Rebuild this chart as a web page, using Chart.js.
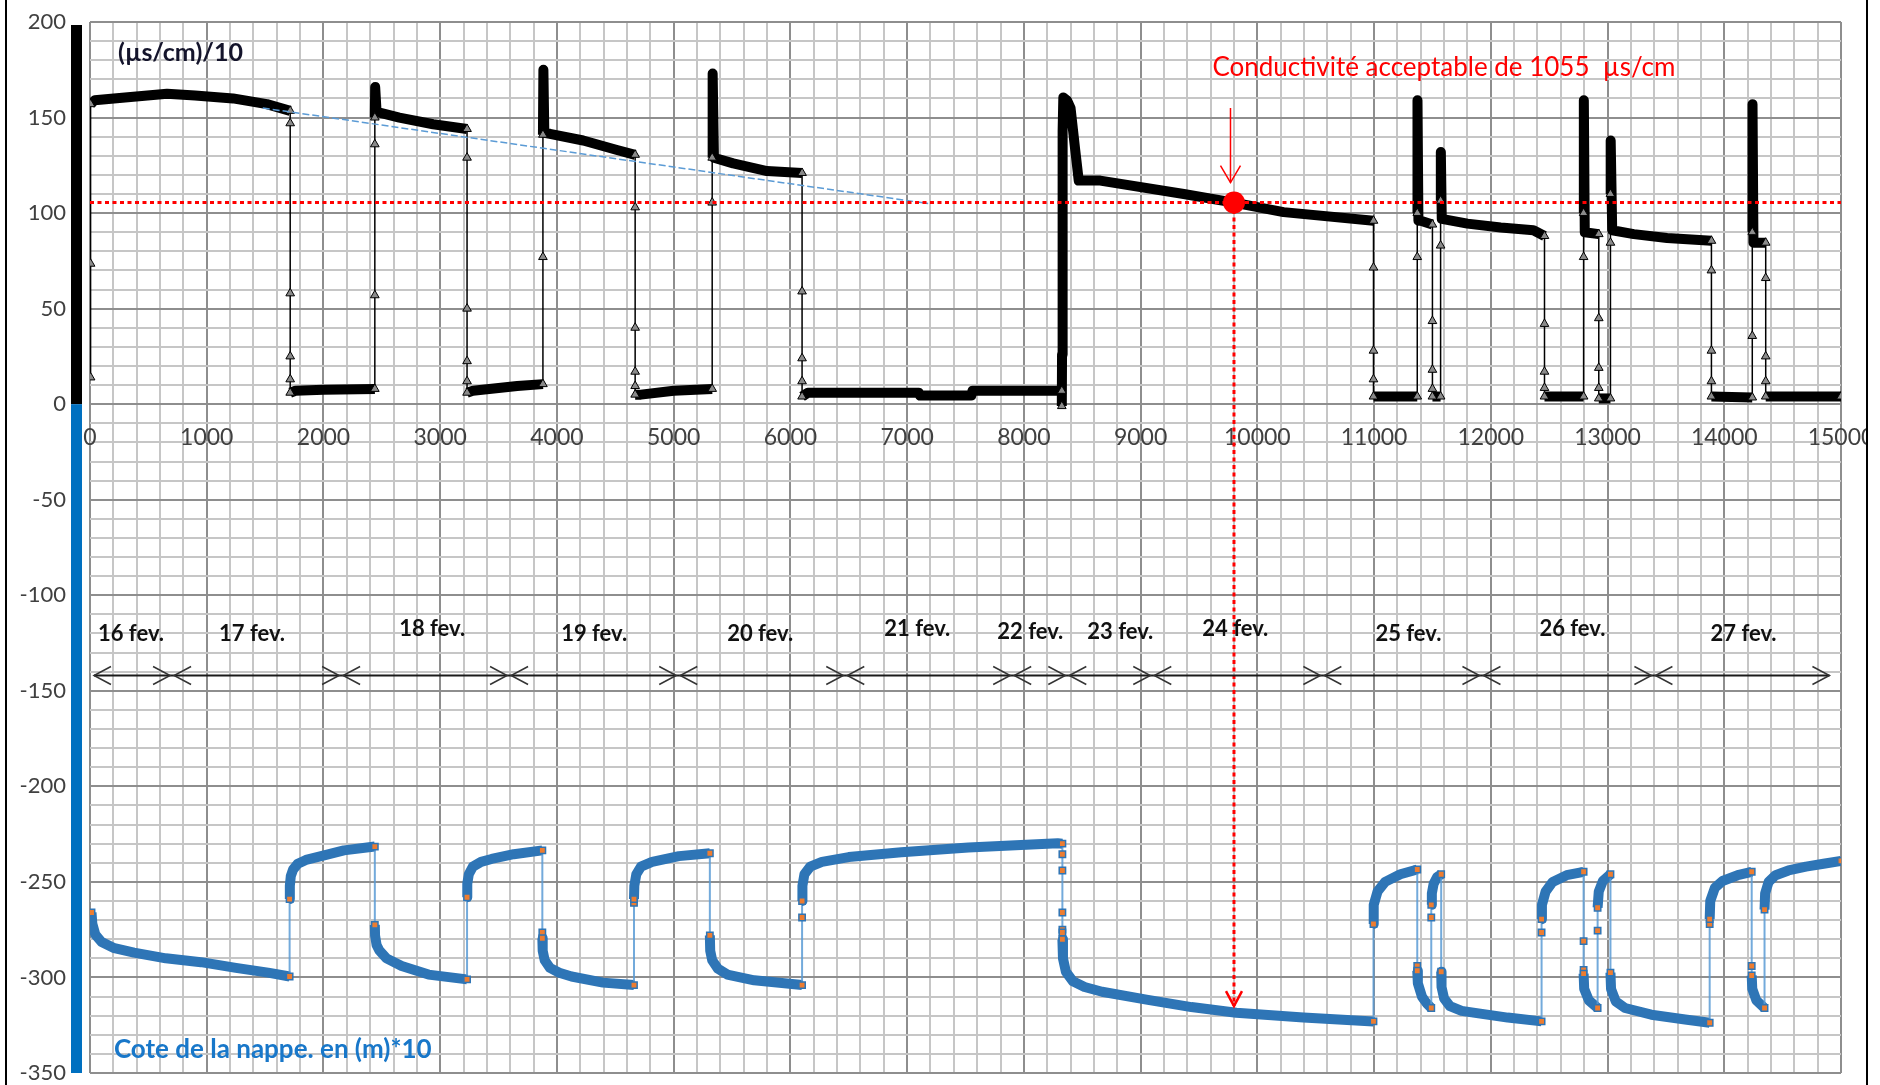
<!DOCTYPE html>
<html lang="fr">
<head>
<meta charset="UTF-8">
<title>Conductivité et cote de la nappe</title>
<script src="https://cdn.jsdelivr.net/npm/chart.js@4.4.1/dist/chart.umd.min.js"></script>
<style>
  html, body { margin:0; padding:0; background:#fff; }
  #wrap { width:1880px; height:1085px; }
</style>
</head>
<body>
<div id="wrap"><canvas id="chart" width="1880" height="1085"></canvas></div>
<script>
// ================= DATA =================
// conductivity (µs/cm)/10 : [time index, value]
const conductivity = [
  [5,14],[5,73.5],[5,157],[40,159],[300,160.5],[660,162.5],[900,161.5],[1225,160],[1515,157],[1715,153.5],
  [1715,147],[1715,58],[1715,25],[1715,13],[1715,6],
  [1760,7],[2000,7.5],[2440,8],
  [2440,57],[2440,136],[2440,150],[2443,166],[2455,153],[2650,150],[2940,146.5],[3230,144],
  [3230,129],[3230,50],[3230,22.5],[3230,12],[3230,6],
  [3280,7],[3660,9.5],[3880,10.5],
  [3880,77],[3880,141],[3884,175],[3892,142],[3940,141.5],[4225,138],[4515,133],[4670,130.5],
  [4670,103],[4670,40],[4670,17],[4670,9.5],[4670,5],
  [4720,5],[5000,7],[5330,8],
  [5330,105.5],[5330,129],[5334,173],[5345,129],[5510,126],[5800,122],[6100,121],
  [6100,59],[6100,24],[6100,12],[6100,4],
  [6150,6],[7100,6],[7110,4.5],[7550,4.5],[7560,7],[8325,7],
  [8325,-1],[8327,26],[8329,42],[8331,77.6],[8333,114],[8335,143],[8338,160.5],[8370,159],[8400,155],
  [8440,133],[8470,117],[8655,117],[9370,110],[9800,105.5],[10225,100.5],[10995,96],
  [10995,71.5],[10995,28],[10995,13],[10995,4],
  [11370,4],
  [11370,77],[11370,100],[11372,159],[11380,96],[11400,96],[11500,94],
  [11500,43.5],[11500,18],[11500,8],[11500,4],
  [11570,4],
  [11570,83],[11570,106.5],[11572,132],[11580,97],[11800,94.5],[12085,92.5],[12365,91],[12460,88],
  [12460,42],[12460,17],[12460,8.5],[12460,4],
  [12795,4],
  [12795,77],[12795,100],[12797,159],[12805,90],[12925,89],
  [12925,45],[12925,19],[12925,8.5],[12925,3],
  [13025,3],
  [13025,84.5],[13025,110],[13027,138],[13040,91],[13225,89],[13510,87],[13890,85.5],
  [13890,70],[13890,28],[13890,12],[13890,4],
  [14240,3.5],
  [14240,35.7],[14240,90],[14242,157],[14250,84.5],[14355,84.5],
  [14355,66],[14355,25],[14355,12],[14355,4],
  [15000,4]
];

// cote de la nappe en (m)*10 : [time index, value]
const waterLevel = [
  [13,-266],[20,-272],[45,-277.5],[100,-281.5],[200,-284.5],[377,-287],[650,-290],[951,-292],[1250,-295],[1525,-297.5],[1710,-299.5],
  [1710,-259],[1712,-252],[1720,-247],[1740,-243.5],[1780,-240.5],[1850,-238.5],[1980,-236.5],[2175,-233.5],[2440,-231.5],
  [2440,-272.5],[2442,-278],[2455,-283],[2480,-286],[2540,-290],[2670,-294],[2900,-298.5],[3230,-301],
  [3230,-258],[3232,-251],[3245,-246],[3280,-242],[3350,-239.5],[3440,-238],[3630,-235.5],[3875,-233.5],
  [3875,-276.5],[3875,-279.5],[3878,-286],[3895,-291],[3940,-295],[4020,-297.5],[4125,-299.5],[4395,-302.7],[4660,-304],
  [4660,-261],[4660,-259],[4663,-252],[4680,-246],[4720,-242],[4815,-239.5],[5045,-236.5],[5310,-235],
  [5310,-278],[5313,-286],[5330,-291],[5380,-295.5],[5460,-298.5],[5690,-301.5],[6100,-304],
  [6100,-268.6],[6100,-260],[6103,-252],[6120,-246],[6170,-242],[6270,-239.5],[6500,-237],[6950,-234.5],[7525,-232],[8290,-229.8],[8330,-230],
  [8330,-235.5],[8330,-244],[8330,-266],[8330,-275],[8330,-276.5],[8330,-280],[8335,-290],[8360,-297],[8420,-302],
  [8520,-305],[8670,-307.5],[9050,-311.6],[9435,-315.5],[9820,-318.5],[10395,-321],[10995,-323],
  [10995,-272],[10997,-262],[11030,-255],[11095,-250],[11225,-246],[11370,-243.5],
  [11370,-294],[11370,-296.5],[11375,-303],[11410,-310],[11450,-313.5],[11490,-316],
  [11490,-268.6],[11490,-262],[11495,-256],[11510,-251],[11540,-247.5],[11575,-246],
  [11575,-297],[11578,-305],[11600,-311],[11650,-315],[11750,-317.5],[11895,-318.8],[12145,-321],[12435,-323],
  [12435,-276.5],[12435,-269.5],[12438,-262],[12470,-255],[12530,-250],[12650,-246.5],[12795,-244.7],
  [12795,-281],[12795,-296],[12795,-298],[12800,-306],[12840,-312],[12915,-316],
  [12915,-275.5],[12915,-263.5],[12925,-255],[12960,-249.5],[13025,-246],
  [13025,-297.5],[13030,-306],[13070,-312.5],[13150,-316],[13375,-319.5],[13665,-322],[13875,-323.7],
  [13875,-272],[13875,-269.5],[13880,-260],[13920,-253],[13985,-249.5],[14115,-246.5],[14235,-244.7],
  [14235,-294],[14235,-299],[14240,-306],[14275,-312],[14345,-316],
  [14345,-264.5],[14350,-256],[14380,-250],[14440,-246.5],[14550,-244],[14700,-242],[14850,-240.5],[15000,-239]
];

// blue dashed trend on the conductivity peaks
const trendX = [1480, 7180];
const trendY = [155, 105];

// acceptable conductivity 1055 µs/cm -> 105.5
const thresholdY = 105.5;
const criticalX = 9800;
const levelArrowTipY = -315;
const topArrowX = 9770;
const topArrowY = [155, 116];

// days
const dayLabels = ['16 fev.','17 fev.','18 fev.','19 fev.','20 fev.','21 fev.','22 fev.','23 fev.','24 fev.','25 fev.','26 fev.','27 fev.'];
const dayLabelX = [351, 1388, 2931, 4319, 5741, 7087, 8055, 8826, 9811, 11294, 12699, 14165];
const dayLabelY = [-120, -120, -117.5, -120, -120, -117.5, -119, -119, -117.5, -120, -117.5, -120];
const dayBounds = [34, 703, 2151, 3590, 5039, 6470, 7900, 8372, 9100, 10557, 11920, 13393, 14901];
const dayArrowY = -142;

// axis ranges / ticks
const xRange = [0, 15000];
const yRange = [-350, 200];
const xMajor = 1000, xMinor = 200;
const yMajor = 50, yMinor = 10;

// ================= HELPERS =================
const toPts = arr => arr.map(p => ({ x: p[0], y: p[1] }));
const isVertical = c => c.p0.parsed.x === c.p1.parsed.x;
const nearVertical = ctx => {
  const d = ctx.dataset.data, i = ctx.dataIndex;
  const v = j => j >= 0 && j < d.length && d[j].x === d[i].x;
  return i === 0 || i === d.length - 1 || v(i - 1) || v(i + 1);
};

function arrowHead(ctx, tx, ty, dx, dy, len, half) {
  const bx = tx - dx * len, by = ty - dy * len;
  const nx = -dy, ny = dx;
  ctx.beginPath();
  ctx.moveTo(bx + nx * half, by + ny * half);
  ctx.lineTo(tx, ty);
  ctx.lineTo(bx - nx * half, by - ny * half);
  ctx.stroke();
}

// ================= DECORATION PLUGIN =================
const decor = {
  id: 'decor',
  afterDatasetsDraw(chart) {
    const { ctx, scales: { x, y } } = chart;
    ctx.save();

    // day arrows
    const ya = y.getPixelForValue(dayArrowY);
    ctx.strokeStyle = '#1a1a1a';
    ctx.lineWidth = 2;
    ctx.beginPath();
    ctx.moveTo(x.getPixelForValue(dayBounds[0]), ya);
    ctx.lineTo(x.getPixelForValue(dayBounds[dayBounds.length - 1]), ya);
    ctx.stroke();
    ctx.lineWidth = 1.5;
    ctx.strokeStyle = '#333';
    for (let i = 0; i < dayBounds.length - 1; i++) {
      const a = x.getPixelForValue(dayBounds[i]) + (i === 0 ? 0 : 2);
      const b = x.getPixelForValue(dayBounds[i + 1]) - (i === dayBounds.length - 2 ? 0 : 2);
      arrowHead(ctx, a, ya, -1, 0, 17, 9);
      arrowHead(ctx, b, ya, 1, 0, 17, 9);
    }

    // day labels
    ctx.font = 'bold 22px Lato';
    ctx.fillStyle = '#111';
    ctx.textAlign = 'center';
    ctx.textBaseline = 'middle';
    dayLabels.forEach((t, i) => {
      ctx.fillText(t, x.getPixelForValue(dayLabelX[i]), y.getPixelForValue(dayLabelY[i]));
    });

    // red arrow on top of the critical point
    const ax = x.getPixelForValue(topArrowX);
    ctx.strokeStyle = '#ff0000';
    ctx.lineWidth = 1.5;
    ctx.beginPath();
    ctx.moveTo(ax, y.getPixelForValue(topArrowY[0]));
    ctx.lineTo(ax, y.getPixelForValue(topArrowY[1]));
    ctx.stroke();
    arrowHead(ctx, ax, y.getPixelForValue(topArrowY[1]), 0, 1, 17, 10);

    // red arrow head at the bottom of the dotted vertical
    ctx.lineWidth = 2.5;
    arrowHead(ctx, x.getPixelForValue(criticalX), y.getPixelForValue(levelArrowTipY), 0, 1, 15, 8);

    // texts
    ctx.textAlign = 'left';
    ctx.font = 'bold 25px Lato';
    ctx.fillStyle = '#14142b';
    ctx.fillText('(µs/cm)/10', x.getPixelForValue(240), y.getPixelForValue(184));

    ctx.font = '26px Lato';
    ctx.fillStyle = '#ff0000';
    ctx.fillText('Conductivité acceptable de 1055  µs/cm', x.getPixelForValue(9615), y.getPixelForValue(176));

    ctx.font = 'bold 26px Lato';
    ctx.fillStyle = '#1877c9';
    ctx.fillText('Cote de la nappe. en (m)*10', x.getPixelForValue(205), y.getPixelForValue(-338));

    ctx.restore();
  },
  afterDraw(chart) {
    const { ctx, scales: { y } } = chart;
    ctx.save();
    // thick two-colour axis bar
    const y0 = y.getPixelForValue(0);
    ctx.fillStyle = '#000';
    ctx.fillRect(71, y.top + 3, 11, y0 - y.top - 3);
    ctx.fillStyle = '#0070c0';
    ctx.fillRect(71, y0, 11, y.bottom - y0);
    // outer frame
    ctx.fillStyle = '#fff';
    ctx.fillRect(1868, 0, 12, chart.height);
    ctx.fillStyle = '#000';
    ctx.fillRect(5, 0, 2, chart.height);
    ctx.fillRect(1866, 0, 2, chart.height);
    ctx.restore();
  }
};

// ================= CHART =================
Chart.defaults.font.family = 'Lato, "Open Sans", sans-serif';

new Chart(document.getElementById('chart'), {
  type: 'line',
  data: {
    datasets: [
      {
        label: 'point critique',
        data: [{ x: criticalX, y: thresholdY }],
        showLine: false,
        pointRadius: 11,
        pointBackgroundColor: '#ff0000',
        pointBorderWidth: 0
      },
      {
        label: 'seuil',
        data: [{ x: xRange[0], y: thresholdY }, { x: xRange[1], y: thresholdY }],
        borderColor: '#ff0000',
        borderWidth: 3,
        borderDash: [4, 3.5],
        pointRadius: 0
      },
      {
        label: 'verticale',
        data: [{ x: criticalX, y: thresholdY }, { x: criticalX, y: levelArrowTipY }],
        borderColor: '#ff0000',
        borderWidth: 3,
        borderDash: [4, 3.5],
        pointRadius: 0
      },
      {
        label: 'tendance',
        data: trendX.map((v, i) => ({ x: v, y: trendY[i] })),
        borderColor: '#5b9bd5',
        borderWidth: 1.5,
        borderDash: [7, 3],
        pointRadius: 0
      },
      {
        label: 'conductivité',
        data: toPts(conductivity),
        borderColor: '#000',
        borderJoinStyle: 'round',
        segment: { borderWidth: c => isVertical(c) ? 1.5 : 10 },
        pointStyle: 'triangle',
        pointRadius: c => nearVertical(c) ? 5 : 0,
        pointBackgroundColor: '#8a8a8a',
        pointBorderColor: '#000',
        pointBorderWidth: 1
      },
      {
        label: 'cote de la nappe',
        data: toPts(waterLevel),
        borderColor: '#2e75b6',
        borderJoinStyle: 'round',
        segment: {
          borderWidth: c => isVertical(c) ? 2 : 10,
          borderColor: c => isVertical(c) ? 'rgba(91,155,213,0.85)' : '#2e75b6'
        },
        pointStyle: 'rect',
        pointRadius: c => nearVertical(c) ? 4.5 : 0,
        pointBackgroundColor: '#ed7d31',
        pointBorderColor: '#2e75b6',
        pointBorderWidth: 1.5
      }
    ]
  },
  options: {
    responsive: false,
    animation: false,
    devicePixelRatio: 1,
    layout: { padding: { left: 0, top: 22, right: 39, bottom: 12 } },
    plugins: { legend: { display: false }, tooltip: { enabled: false } },
    scales: {
      x: {
        type: 'linear',
        position: { y: 0 },
        min: xRange[0], max: xRange[1],
        border: { display: false },
        // the axis sits inside the plot at y = 0, it must not take layout space
        afterFit: s => { s.height = 0; s.paddingLeft = 0; s.paddingRight = 0; s.paddingTop = 0; s.paddingBottom = 0; },
        grid: {
          drawTicks: false,
          color: c => c.tick && c.tick.value % xMajor === 0 ? '#8e8e8e' : '#c6c6c6',
          lineWidth: 2
        },
        ticks: {
          stepSize: xMinor,
          maxTicksLimit: 1000,
          autoSkip: false,
          maxRotation: 0,
          padding: 20,
          color: '#404040',
          font: { size: 23 },
          callback: v => v % xMajor === 0 ? String(v) : ''
        }
      },
      y: {
        type: 'linear',
        position: 'left',
        min: yRange[0], max: yRange[1],
        border: { display: false },
        afterFit: s => { s.width = 90; s.paddingTop = 0; s.paddingBottom = 0; },
        grid: {
          drawTicks: false,
          color: c => c.tick && c.tick.value % yMajor === 0 ? '#8e8e8e' : '#c6c6c6',
          lineWidth: 2
        },
        ticks: {
          stepSize: yMinor,
          maxTicksLimit: 1000,
          autoSkip: false,
          padding: 24,
          color: '#404040',
          font: { size: 22 },
          callback: v => v % yMajor === 0 ? String(v) : ''
        }
      }
    }
  },
  plugins: [decor]
});
</script>
</body>
</html>
